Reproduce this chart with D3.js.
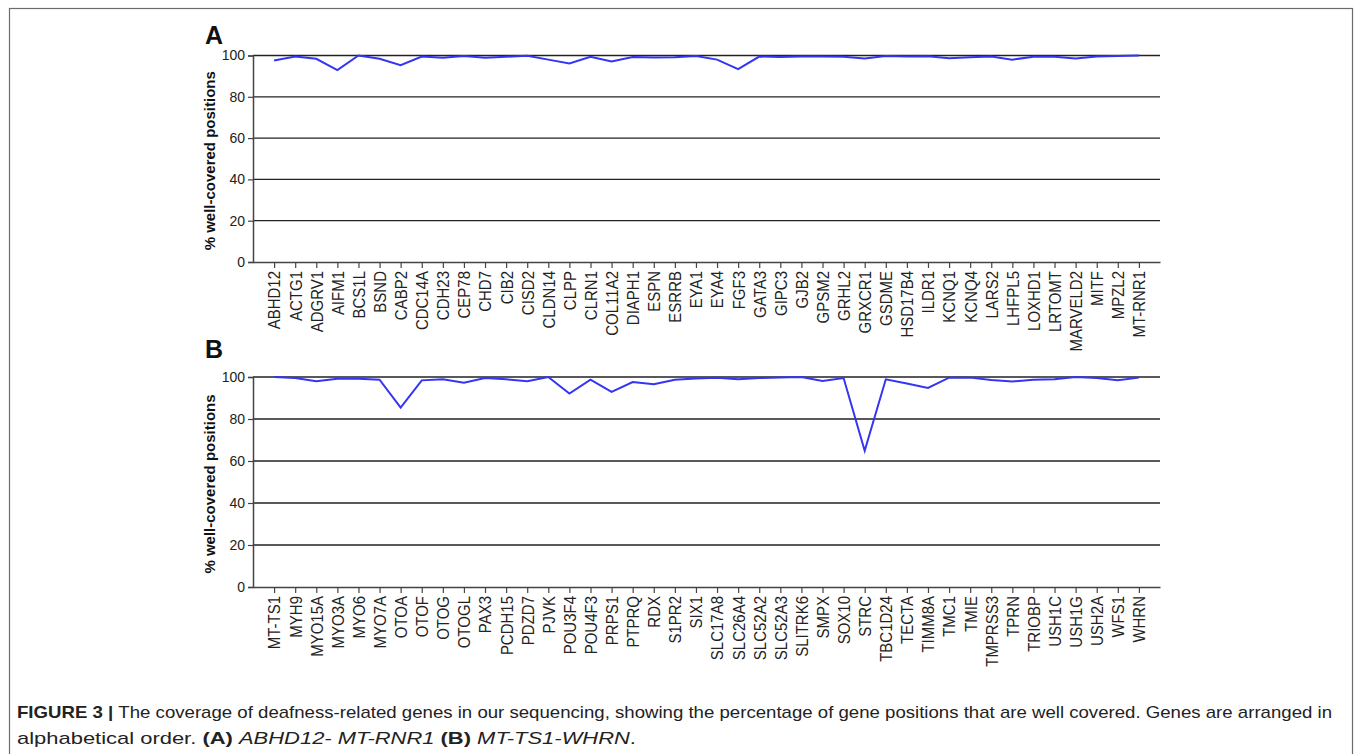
<!DOCTYPE html>
<html><head><meta charset="utf-8">
<script src="https://cdn.jsdelivr.net/npm/d3@7"></script>
<style>body{margin:0;background:#fff;}svg{display:block;font-family:"Liberation Sans",Arial,sans-serif;}</style>
</head><body>
<script>
const genesA = ["ABHD12","ACTG1","ADGRV1","AIFM1","BCS1L","BSND","CABP2","CDC14A","CDH23","CEP78","CHD7","CIB2","CISD2","CLDN14","CLPP","CLRN1","COL11A2","DIAPH1","ESPN","ESRRB","EYA1","EYA4","FGF3","GATA3","GIPC3","GJB2","GPSM2","GRHL2","GRXCR1","GSDME","HSD17B4","ILDR1","KCNQ1","KCNQ4","LARS2","LHFPL5","LOXHD1","LRTOMT","MARVELD2","MITF","MPZL2","MT-RNR1"];
const valuesA = [97.6,99.5,98.4,92.9,100,98.4,95.3,99.5,98.9,99.7,98.9,99.4,99.9,98.0,96.1,99.4,97.1,99.3,99.0,99.2,99.7,98.0,93.4,99.5,99.3,99.5,99.5,99.4,98.5,99.7,99.5,99.6,98.7,99.2,99.5,98.0,99.4,99.4,98.5,99.5,99.8,100];
const genesB = ["MT-TS1","MYH9","MYO15A","MYO3A","MYO6","MYO7A","OTOA","OTOF","OTOG","OTOGL","PAX3","PCDH15","PDZD7","PJVK","POU3F4","POU4F3","PRPS1","PTPRQ","RDX","S1PR2","SIX1","SLC17A8","SLC26A4","SLC52A2","SLC52A3","SLITRK6","SMPX","SOX10","STRC","TBC1D24","TECTA","TIMM8A","TMC1","TMIE","TMPRSS3","TPRN","TRIOBP","USH1C","USH1G","USH2A","WFS1","WHRN"];
const valuesB = [100,99.5,98.0,99.2,99.2,98.7,85.4,98.4,98.9,97.3,99.5,98.9,98.0,100,92.1,98.7,92.9,97.6,96.5,98.7,99.3,99.7,98.9,99.5,99.8,100,98.1,99.5,64.9,98.9,96.9,94.8,99.7,99.7,98.6,97.8,98.7,98.9,100,99.5,98.4,99.7];
const yTicks = [0,20,40,60,80,100];
const yLabel = "% well-covered positions";

const W = 1355, H = 754;
const svg = d3.select("body").append("svg").attr("width", W).attr("height", H);

svg.append("rect").attr("x", 9.5).attr("y", 8.5).attr("width", 1343).attr("height", 760)
  .attr("fill", "none").attr("stroke", "#6b6b6b").attr("stroke-width", 1.2);

function panel(letter, letterY, genes, values, top, bottom) {
  const x = d3.scalePoint().domain(genes).range([253, 1160]).padding(1);
  const y = d3.scaleLinear().domain([0, 100]).range([bottom, top]);
  const g = svg.append("g");
  g.selectAll("line.grid").data(yTicks.filter(d => d > 0)).join("line")
    .attr("x1", 253).attr("x2", 1160).attr("y1", d => y(d)).attr("y2", d => y(d))
    .attr("stroke", "#222").attr("stroke-width", 1.3);
  const ya = g.append("g").attr("transform", "translate(253,0)")
    .call(d3.axisLeft(y).tickValues(yTicks).tickSize(5).tickPadding(3));
  ya.select(".domain").attr("stroke", "#444").attr("stroke-width", 1.5);
  ya.selectAll(".tick line").attr("stroke", "#444").attr("stroke-width", 1.2);
  ya.selectAll(".tick text").attr("font-size", 14).attr("fill", "#222").attr("font-family", "Liberation Sans, Arial, sans-serif");
  const xa = g.append("g").attr("transform", `translate(0,${bottom})`)
    .call(d3.axisBottom(x).tickSize(6).tickSizeOuter(0));
  xa.select(".domain").attr("stroke", "#444").attr("stroke-width", 1.5);
  xa.selectAll(".tick line").attr("stroke", "#444").attr("stroke-width", 1.2);
  xa.selectAll(".tick text")
    .attr("font-size", 15).attr("fill", "#222").attr("font-family", "Liberation Sans, Arial, sans-serif")
    .attr("text-anchor", "end").attr("dy", "0.35em")
    .attr("transform", "translate(0,9) rotate(-90) scale(1,1.12)")
    .attr("x", 0).attr("y", 0);
  g.append("path").datum(values)
    .attr("fill", "none").attr("stroke", "#3434f4").attr("stroke-width", 2).attr("stroke-linejoin", "miter")
    .attr("d", d3.line().x((d, i) => x(genes[i])).y(d => y(d)));
  g.append("text").attr("transform", `translate(215,${(top + bottom) / 2 + 2}) rotate(-90)`)
    .attr("text-anchor", "middle").attr("font-size", 15).attr("font-weight", "bold").attr("fill", "#111")
    .text(yLabel);
  g.append("text").attr("x", 205).attr("y", letterY).attr("font-size", 25).attr("font-weight", "bold")
    .attr("fill", "#111").text(letter);
}

panel("A", 44, genesA, valuesA, 55.5, 262);
panel("B", 358, genesB, valuesB, 377, 587);

const cap = svg.append("g").attr("font-size", 17).attr("fill", "#222");
const t1 = cap.append("text").attr("x", 17).attr("y", 718)
  .attr("textLength", 1315).attr("lengthAdjust", "spacingAndGlyphs");
t1.append("tspan").attr("font-weight", "bold").text("FIGURE 3 | ");
t1.append("tspan").text("The coverage of deafness-related genes in our sequencing, showing the percentage of gene positions that are well covered. Genes are arranged in");
const t2 = cap.append("text").attr("x", 17).attr("y", 744)
  .attr("textLength", 619).attr("lengthAdjust", "spacingAndGlyphs");
t2.append("tspan").text("alphabetical order. ");
t2.append("tspan").attr("font-weight", "bold").text("(A) ");
t2.append("tspan").attr("font-style", "italic").text("ABHD12- MT-RNR1 ");
t2.append("tspan").attr("font-weight", "bold").text("(B) ");
t2.append("tspan").attr("font-style", "italic").text("MT-TS1-WHRN");
t2.append("tspan").text(".");
</script>
</body></html>
